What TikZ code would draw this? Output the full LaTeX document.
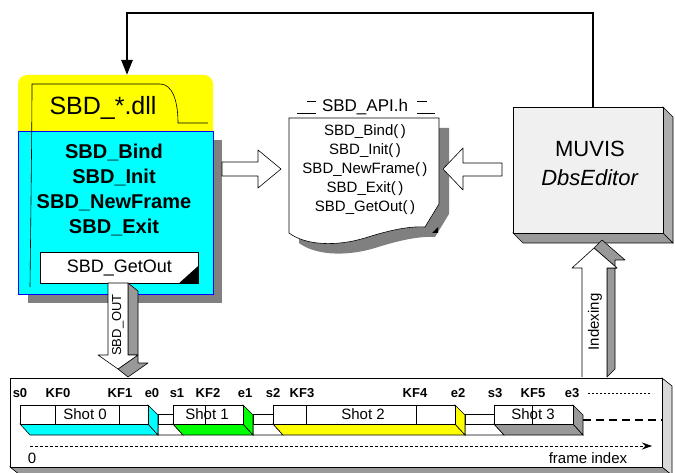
\documentclass[tikz,border=0pt]{standalone}
\usepackage{fontspec}
\setmainfont{Liberation Sans}
\usetikzlibrary{arrows.meta,positioning,calc}
\definecolor{sbdCyan}{HTML}{00FFFF}
\definecolor{sbdYellow}{HTML}{FFFF00}
\definecolor{sbdGreen}{HTML}{00FF00}
\definecolor{sbdShade}{HTML}{808080}
\definecolor{sbdGray}{HTML}{999999}
\definecolor{sbdSide}{HTML}{D9D9D9}
\definecolor{sbdLight}{HTML}{F0F0F0}
\newcommand{\sbdfs}[2]{\fontsize{#1}{#2}\selectfont}

\begin{document}
\begin{tikzpicture}[x=1pt,y=-1pt,>=Stealth,line width=0.6pt,
  lbl/.style={font=\sbdfs{13}{15}\bfseries,inner sep=0pt},
  shotname/.style={font=\sbdfs{15}{17},inner sep=0pt},
  hollow/.style={draw,fill=white,line join=round},
  fbline/.style={line width=2.5pt,-{Triangle[length=15pt,width=11pt]}}]
  \useasboundingbox (0,0) rectangle (675,473);

  % Timeline box (3D)
  \filldraw[fill=sbdGray] (10,467) -- (20,475) -- (672,475) -- (662,467) -- cycle;
  \filldraw[fill=sbdSide] (662,378) -- (672,386) -- (672,475) -- (662,467) -- cycle;
  \node[draw,fill=white,minimum width=652,minimum height=89,anchor=north west,inner sep=0pt] (tline) at (10,378) {};

  % gaps between shots
  \foreach \a/\b in {158/173,253/273,465/494} {
    \filldraw[fill=white] (\a,424) -- (\b,424) -- (\b+10,435) -- (\a,435) -- cycle;
    \filldraw[fill=white] (\a,414) rectangle (\b,424);
  }
  % shots
  \foreach \a/\b/\c/\n in {20/148/sbdCyan/0,173/243/sbdGreen/1,273/455/sbdYellow/2,494/573/sbdGray/3} {
    \filldraw[fill=\c] (\a,424) -- (\b,424) -- (\b+10,435) -- (\a+10,435) -- cycle;
    \filldraw[fill=\c] (\b,405) -- (\b+10,415) -- (\b+10,435) -- (\b,424) -- cycle;
    \filldraw[fill=white] (\a,405) rectangle (\b,424);
  }
  % key frames
  \foreach \x in {55,119,205,306,416,532}
    \draw (\x,405) -- (\x,424);
  \foreach \x/\n in {85/0,207/1,363/2,533/3}
    \node[shotname] (shot\n) at (\x,414.5) {Shot \n};

  % frame labels
  \foreach \x/\t in {20/s0,58/KF0,120/KF1,152/e0,177/s1,208/KF2,245/e1,273/s2,302/KF3,
                     415/KF4,458/e2,495/s3,533/KF5,572/e3}
    \node[lbl] (f\t) at (\x,393) {\t};
  \draw[dash pattern=on 2pt off 2pt] (588,393) -- (652,393);
  \draw[line width=2.5pt,dash pattern=on 8pt off 5pt] (583,420) -- (662,420);
  \draw[dash pattern=on 3pt off 2pt,-{Stealth[length=10pt,width=7pt]}] (30,446) -- (652,446);
  \node[font=\sbdfs{15}{17},inner sep=0pt] (zero) at (32,458) {0};
  \node[font=\sbdfs{15}{17},inner sep=0pt] (findex) at (588,458) {frame index};

  % DLL box
  \fill[sbdShade] (28,140) rectangle (222,303);
  \fill[sbdYellow] (18,131) [rounded corners=9pt] -- (18,75) -- (213,75) [sharp corners] -- (213,131) -- cycle;
  \node[draw=blue,fill=sbdCyan,minimum width=195,minimum height=163,anchor=north west,inner sep=0pt] (dll) at (18,131) {};
  \draw (30,287) .. controls (31,200) and (32,120) .. (32,84) -- (160,84)
        .. controls (172,84) and (178,100) .. (178,123) -- (208,123);
  \node[font=\sbdfs{25}{28}] (dllname) at (103,108) {SBD\_*.dll};
  \node[font=\sbdfs{20}{25}\bfseries,align=center] (dllfun) at (114,190)
        {SBD\_Bind\\SBD\_Init\\SBD\_NewFrame\\SBD\_Exit};
  \node[draw,fill=white,minimum width=158,minimum height=31,anchor=north west,inner sep=0pt,
        font=\sbdfs{18}{20}] (getout) at (40,252) {SBD\_GetOut};
  \fill ($(getout.south east)+(-20,0)$) -- (getout.south east) -- ($(getout.south east)+(0,-18)$) -- cycle;

  % SBD_OUT arrow
  \filldraw[fill=sbdGray,line join=round] (128,283) -- (138,291) -- (138,363) -- (148,363)
        -- (128,377) -- (118,369) -- (138,355) -- (128,355) -- cycle;
  \draw[hollow] (108,283) -- (128,283) -- (128,355) -- (138,355) -- (118,369)
        -- (98,355) -- (108,355) -- cycle;
  \node[rotate=90,font=\sbdfs{13}{15},inner sep=0pt] (sbdout) at (118,325) {SBD\_OUT};

  % header file
  \begin{scope}[shift={(10,10)}]
    \fill[sbdShade] (289,118) -- (439,118) -- (439,204) -- (425,227)
          .. controls (410,226) and (390,230) .. (365,238)
          .. controls (335,247) and (305,245) .. (289,233) -- cycle;
  \end{scope}
  \filldraw[fill=white] (289,118) -- (439,118) -- (439,204) -- (425,227)
          .. controls (410,226) and (390,230) .. (365,238)
          .. controls (335,247) and (305,245) .. (289,233) -- cycle;
  \fill (432,233) -- (438,227) -- (438,233) -- cycle;
  \node[font=\sbdfs{17}{19},inner sep=0pt] (apih) at (365,107) {SBD\_API.h};
  \draw (297,113) -- (316,113) (307,101) -- (316,101)
        (417,113) -- (435,113) (417,101) -- (427,101);
  \node[font=\sbdfs{15}{19},align=center] (apifun) at (365,170)
        {SBD\_Bind(\,)\\SBD\_Init(\,)\\SBD\_NewFrame(\,)\\SBD\_Exit(\,)\\SBD\_GetOut(\,)};

  % hollow arrows
  \draw[hollow] (222,162) -- (258,162) -- (258,150) -- (281,169) -- (258,188) -- (258,176) -- (222,176) -- cycle;
  \draw[hollow] (502,163) -- (463,163) -- (463,148) -- (443,169) -- (463,190) -- (463,176) -- (502,176) -- cycle;

  % MUVIS box (3D)
  \filldraw[fill=sbdGray] (513,233) -- (523,243) -- (673,243) -- (663,233) -- cycle;
  \filldraw[fill=sbdGray!80] (663,107) -- (673,117) -- (673,243) -- (663,233) -- cycle;
  \node[draw,fill=sbdLight,minimum width=150,minimum height=126,anchor=north west,inner sep=0pt] (muvis) at (513,107) {};
  \node[font=\sbdfs{22}{29},align=center] (muvistxt) at (590,163) {MUVIS\\\textit{DbsEditor}};

  % Indexing arrow
  \filldraw[fill=sbdGray,line join=round] (607,377) -- (615,369) -- (615,260) -- (625,260)
        -- (602,240) -- (594,248) -- (617,268) -- (607,268) -- cycle;
  \draw[hollow] (582,377) -- (582,268) -- (572,268) -- (594,248) -- (617,268) -- (607,268) -- (607,377);
  \node[rotate=90,font=\sbdfs{15}{17},inner sep=0pt] (indexing) at (595,322) {Indexing};

  % feedback
  \coordinate (fbk) at (593,107);
  \coordinate (dlltop) at (127,75);
  \draw[fbline] (fbk) -- (593,13) -| (dlltop);
\end{tikzpicture}
\end{document}
